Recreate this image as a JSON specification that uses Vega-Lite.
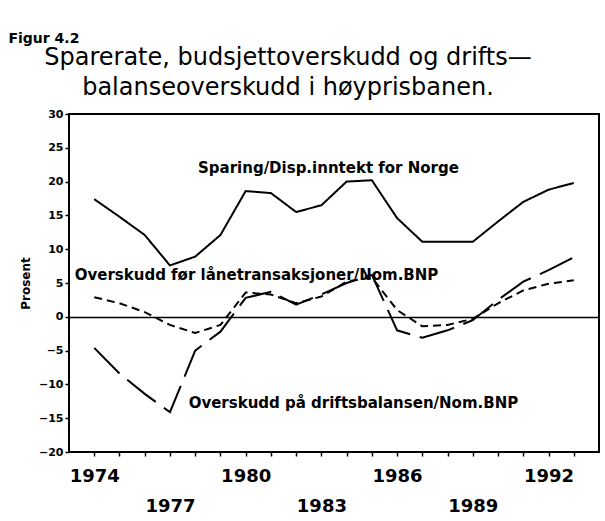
{
  "$schema": "https://vega.github.io/schema/vega-lite/v6.json",
  "background": "white",
  "padding": {"left": 8, "top": 32, "right": 4, "bottom": 2},
  "config": {
    "font": "DejaVu Sans",
    "view": {"stroke": "black", "strokeWidth": 2},
    "concat": {"spacing": 0}
  },
  "title": {
    "text": "Figur 4.2",
    "anchor": "start",
    "frame": "bounds",
    "font": "DejaVu Sans",
    "fontWeight": "bold",
    "fontSize": 14,
    "color": "black",
    "offset": -1,
    "dx": -10
  },
  "datasets": {
    "series": [
      {"year": 1974, "serie": "Sparing", "value": 17.4},
      {"year": 1975, "serie": "Sparing", "value": 14.8},
      {"year": 1976, "serie": "Sparing", "value": 12.1},
      {"year": 1977, "serie": "Sparing", "value": 7.6},
      {"year": 1978, "serie": "Sparing", "value": 8.9},
      {"year": 1979, "serie": "Sparing", "value": 12.1},
      {"year": 1980, "serie": "Sparing", "value": 18.6},
      {"year": 1981, "serie": "Sparing", "value": 18.3},
      {"year": 1982, "serie": "Sparing", "value": 15.5},
      {"year": 1983, "serie": "Sparing", "value": 16.5},
      {"year": 1984, "serie": "Sparing", "value": 20.0},
      {"year": 1985, "serie": "Sparing", "value": 20.2},
      {"year": 1986, "serie": "Sparing", "value": 14.6},
      {"year": 1987, "serie": "Sparing", "value": 11.1},
      {"year": 1988, "serie": "Sparing", "value": 11.1},
      {"year": 1989, "serie": "Sparing", "value": 11.1},
      {"year": 1990, "serie": "Sparing", "value": 14.1},
      {"year": 1991, "serie": "Sparing", "value": 17.0},
      {"year": 1992, "serie": "Sparing", "value": 18.8},
      {"year": 1993, "serie": "Sparing", "value": 19.8},
      {"year": 1974, "serie": "Laanetrans", "value": 2.9},
      {"year": 1975, "serie": "Laanetrans", "value": 2.0},
      {"year": 1976, "serie": "Laanetrans", "value": 0.7},
      {"year": 1977, "serie": "Laanetrans", "value": -1.2},
      {"year": 1978, "serie": "Laanetrans", "value": -2.4},
      {"year": 1979, "serie": "Laanetrans", "value": -1.2},
      {"year": 1980, "serie": "Laanetrans", "value": 3.6},
      {"year": 1981, "serie": "Laanetrans", "value": 3.3},
      {"year": 1982, "serie": "Laanetrans", "value": 2.0},
      {"year": 1983, "serie": "Laanetrans", "value": 3.0},
      {"year": 1984, "serie": "Laanetrans", "value": 5.2},
      {"year": 1985, "serie": "Laanetrans", "value": 5.8},
      {"year": 1986, "serie": "Laanetrans", "value": 1.0},
      {"year": 1987, "serie": "Laanetrans", "value": -1.4},
      {"year": 1988, "serie": "Laanetrans", "value": -1.2},
      {"year": 1989, "serie": "Laanetrans", "value": -0.3},
      {"year": 1990, "serie": "Laanetrans", "value": 2.0},
      {"year": 1991, "serie": "Laanetrans", "value": 3.9},
      {"year": 1992, "serie": "Laanetrans", "value": 4.9},
      {"year": 1993, "serie": "Laanetrans", "value": 5.4},
      {"year": 1974, "serie": "Driftsbalanse", "value": -4.6},
      {"year": 1975, "serie": "Driftsbalanse", "value": -8.4},
      {"year": 1976, "serie": "Driftsbalanse", "value": -11.4},
      {"year": 1977, "serie": "Driftsbalanse", "value": -14.1},
      {"year": 1978, "serie": "Driftsbalanse", "value": -5.0},
      {"year": 1979, "serie": "Driftsbalanse", "value": -2.2},
      {"year": 1980, "serie": "Driftsbalanse", "value": 2.8},
      {"year": 1981, "serie": "Driftsbalanse", "value": 3.7},
      {"year": 1982, "serie": "Driftsbalanse", "value": 1.8},
      {"year": 1983, "serie": "Driftsbalanse", "value": 3.3},
      {"year": 1984, "serie": "Driftsbalanse", "value": 5.0},
      {"year": 1985, "serie": "Driftsbalanse", "value": 6.2},
      {"year": 1986, "serie": "Driftsbalanse", "value": -2.0},
      {"year": 1987, "serie": "Driftsbalanse", "value": -3.1},
      {"year": 1988, "serie": "Driftsbalanse", "value": -2.0},
      {"year": 1989, "serie": "Driftsbalanse", "value": -0.5},
      {"year": 1990, "serie": "Driftsbalanse", "value": 2.5},
      {"year": 1991, "serie": "Driftsbalanse", "value": 5.2},
      {"year": 1992, "serie": "Driftsbalanse", "value": 6.9},
      {"year": 1993, "serie": "Driftsbalanse", "value": 8.8}
    ],
    "labels": [
      {"label": "Sparing/Disp.inntekt for Norge", "year": 1983.28, "value": 22.0},
      {"label": "Overskudd før lånetransaksjoner/Nom.BNP", "year": 1980.43, "value": 6.2},
      {"label": "Overskudd på driftsbalansen/Nom.BNP", "year": 1984.27, "value": -12.7}
    ]
  },
  "vconcat": [
    {
      "width": 530,
      "height": 338,
      "title": {
        "text": ["Sparerate, budsjettoverskudd og drifts—", "balanseoverskudd i høyprisbanen."],
        "anchor": "middle",
        "font": "DejaVu Sans",
        "fontSize": 24,
        "fontWeight": "normal",
        "lineHeight": 30,
        "color": "black",
        "offset": 8,
        "dx": -46
      },
      "encoding": {
        "x": {
          "field": "year", "type": "quantitative",
          "scale": {"domain": [1973, 1994], "nice": false, "zero": false},
          "axis": {
            "title": null,
            "domain": false,
            "grid": false,
            "values": [1974, 1975, 1976, 1977, 1978, 1979, 1980, 1981, 1982, 1983, 1984, 1985, 1986, 1987, 1988, 1989, 1990, 1991, 1992, 1993],
            "labelExpr": "datum.value % 3 == 0 ? '' + datum.value : ''",
            "labelFont": "DejaVu Sans",
            "labelFontWeight": "bold",
            "labelFontSize": 18,
            "labelColor": "black",
            "labelPadding": {"condition": {"test": "datum.value % 6 == 3", "value": 41}, "value": 11},
            "labelOverlap": false,
            "labelFlush": false,
            "tickColor": "black",
            "tickSize": 4,
            "tickWidth": 1.5
          }
        },
        "y": {
          "field": "value", "type": "quantitative",
          "scale": {"domain": [-20, 30], "nice": false, "zero": false},
          "axis": {
            "title": "Prosent",
            "titleFont": "DejaVu Sans",
            "titleFontWeight": "bold",
            "titleFontSize": 12,
            "titleColor": "black",
            "titlePadding": 6,
            "domain": false,
            "grid": true,
            "gridColor": "black",
            "gridWidth": 1.5,
            "gridOpacity": {"condition": {"test": "datum.value == 0", "value": 1}, "value": 0},
            "values": [-20, -15, -10, -5, 0, 5, 10, 15, 20, 25, 30],
            "labelFont": "DejaVu Sans",
            "labelFontWeight": "bold",
            "labelFontSize": 11,
            "labelColor": "black",
            "labelPadding": 2,
            "labelOverlap": false,
            "tickColor": "black",
            "tickSize": 4,
            "tickWidth": 1.5
          }
        }
      },
      "layer": [
        {
          "data": {"name": "series"},
          "mark": {"type": "line", "color": "black", "strokeWidth": 2},
          "encoding": {
            "strokeDash": {
              "field": "serie", "type": "nominal",
              "scale": {"domain": ["Sparing", "Laanetrans", "Driftsbalanse"], "range": [[1, 0], [8, 5], [36, 10]]},
              "legend": null
            }
          }
        },
        {
          "data": {"name": "labels"},
          "mark": {"type": "text", "font": "DejaVu Sans", "fontWeight": "bold", "fontSize": 15, "color": "black", "align": "center", "baseline": "middle"},
          "encoding": {
            "text": {"field": "label"}
          }
        }
      ]
    }
  ]
}
